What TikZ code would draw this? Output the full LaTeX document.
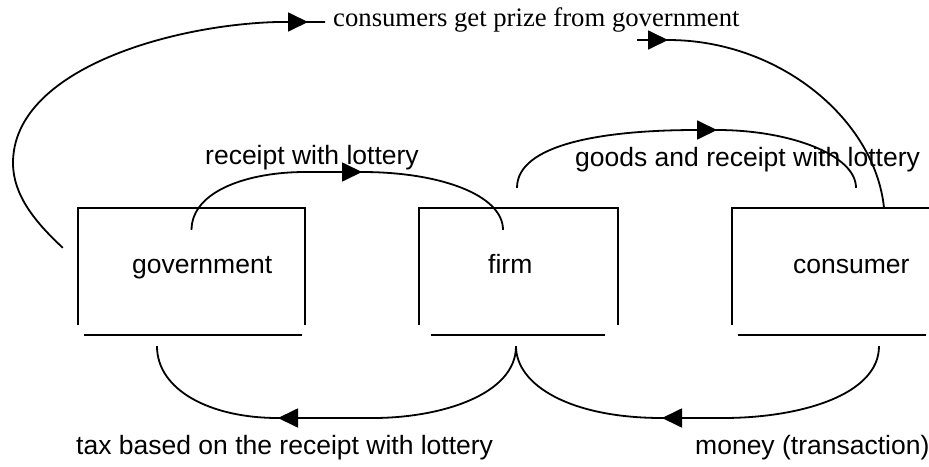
\documentclass[tikz,border=0pt]{standalone}
\usepackage{fontspec}
\setmainfont{Liberation Serif}
\setsansfont{Liberation Sans}
\usetikzlibrary{arrows.meta,calc}
\tikzset{
  ln/.style={line width=1.8pt},
  arr/.style={ln,-{Triangle[length=20pt,width=19pt]}},
  frame/.style={draw=none,minimum height=117pt,inner sep=0pt},
  lbl/.style={inner sep=0pt,anchor=base west,font=\sffamily\fontsize{26.5}{30}\selectfont},
  serlbl/.style={inner sep=0pt,anchor=base west,font=\rmfamily\fontsize{26.7}{30}\selectfont}
}
\begin{document}
\begin{tikzpicture}[x=1pt,y=-1pt]
\useasboundingbox (0,0) rectangle (929,466);
% boxes
\node[frame,minimum width=227pt] (gov) at (191.5,266.5) {};
\node[frame,minimum width=199pt] (firm) at (518.5,266.5) {};
\node[frame,minimum width=203pt] (cons) at (833.5,266.5) {};
\foreach \b in {gov,firm,cons}
  \draw[ln] (\b.south west) -- (\b.north west) -- (\b.north east) -- (\b.south east);
\draw[ln] ($(gov.south west)+(6,10)$) -- ($(gov.south east)+(-3,10)$);
\draw[ln] ($(firm.south west)+(12,10)$) -- ($(firm.south east)+(-13,10)$);
\draw[ln] ($(cons.south west)+(6,10)$) -- ($(cons.south east)+(-9,10)$);
% texts
\node[lbl] (tgov) at (132,273) {government};
\node[lbl] (tfirm) at (488,273) {firm};
\node[lbl] (tcons) at (793,273) {consumer};
\node[lbl] (trec) at (205,164) {receipt with lottery};
\node[lbl] (tgoods) at (575,166) {goods and receipt with lottery};
\node[lbl] (ttax) at (76,454) {tax based on the receipt with lottery};
\node[lbl] (tmoney) at (695,454) {money (transaction)};
\node[serlbl] (prize) at (333,26) {consumers get prize from government};
% connector coordinates
\coordinate (recA) at ($(gov.north)+(0,22)$);
\coordinate (recB) at ($(firm.north)+(-15.5,22)$);
\coordinate (recM) at (305,172);
\coordinate (recT) at (362,172);
\coordinate (gdA) at ($(firm.north)+(-1.5,-20)$);
\coordinate (gdB) at ($(cons.north)+(22.5,-20)$);
\coordinate (gdM) at (697,130);
\coordinate (gdT) at (717,130);
\coordinate (prA) at ($(gov.north west)+(-15,40)$);
\coordinate (prM) at (277,22);
\coordinate (prT) at (308,22);
\coordinate (prE) at ($(prize.base west)+(-8,-4)$);
\coordinate (pcA) at ($(cons.north)+(50.5,0)$);
\coordinate (pcT) at (668,40);
\coordinate (pcE) at (637,40);
\coordinate (txA) at ($(firm.south)+(-2.5,21)$);
\coordinate (txB) at ($(gov.south)+(-34.5,21)$);
\coordinate (txM) at (373,418);
\coordinate (txT) at (278,418);
\coordinate (mnA) at ($(cons.south)+(45.5,21)$);
\coordinate (mnM) at (723,418);
\coordinate (mnT) at (662,418);
% receipt with lottery
\draw[ln] (recA) .. controls (192,190) and (250,172) .. (recM) -- (recT) .. controls (440,172) and (503,195) .. (recB);
\draw[arr] (recM) -- (recT);
% goods and receipt
\draw[ln] (gdA) .. controls (517,145) and (600,130) .. (gdM) -- (gdT) .. controls (790,130) and (856,155) .. (gdB);
\draw[arr] (gdM) -- (gdT);
% consumers get prize (left)
\draw[ln] (prA) .. controls (35,222) and (13,195) .. (13,163) .. controls (13,70) and (170,25) .. (prM) -- (prE);
\draw[arr] (prM) -- (prT);
% consumers get prize (right)
\draw[ln] (pcA) .. controls (875,120) and (780,40) .. (pcT) -- (pcE);
\draw[arr] (pcE) -- (pcT);
% tax
\draw[ln] (txA) .. controls (516,395) and (440,418) .. (txM) -- (txT) .. controls (210,418) and (157,390) .. (txB);
\draw[arr] (txM) -- (txT);
% money
\draw[ln] (mnA) .. controls (879,395) and (800,418) .. (mnM) -- (mnT) .. controls (570,418) and (516,385) .. (txA);
\draw[arr] (mnM) -- (mnT);
\end{tikzpicture}
\end{document}
